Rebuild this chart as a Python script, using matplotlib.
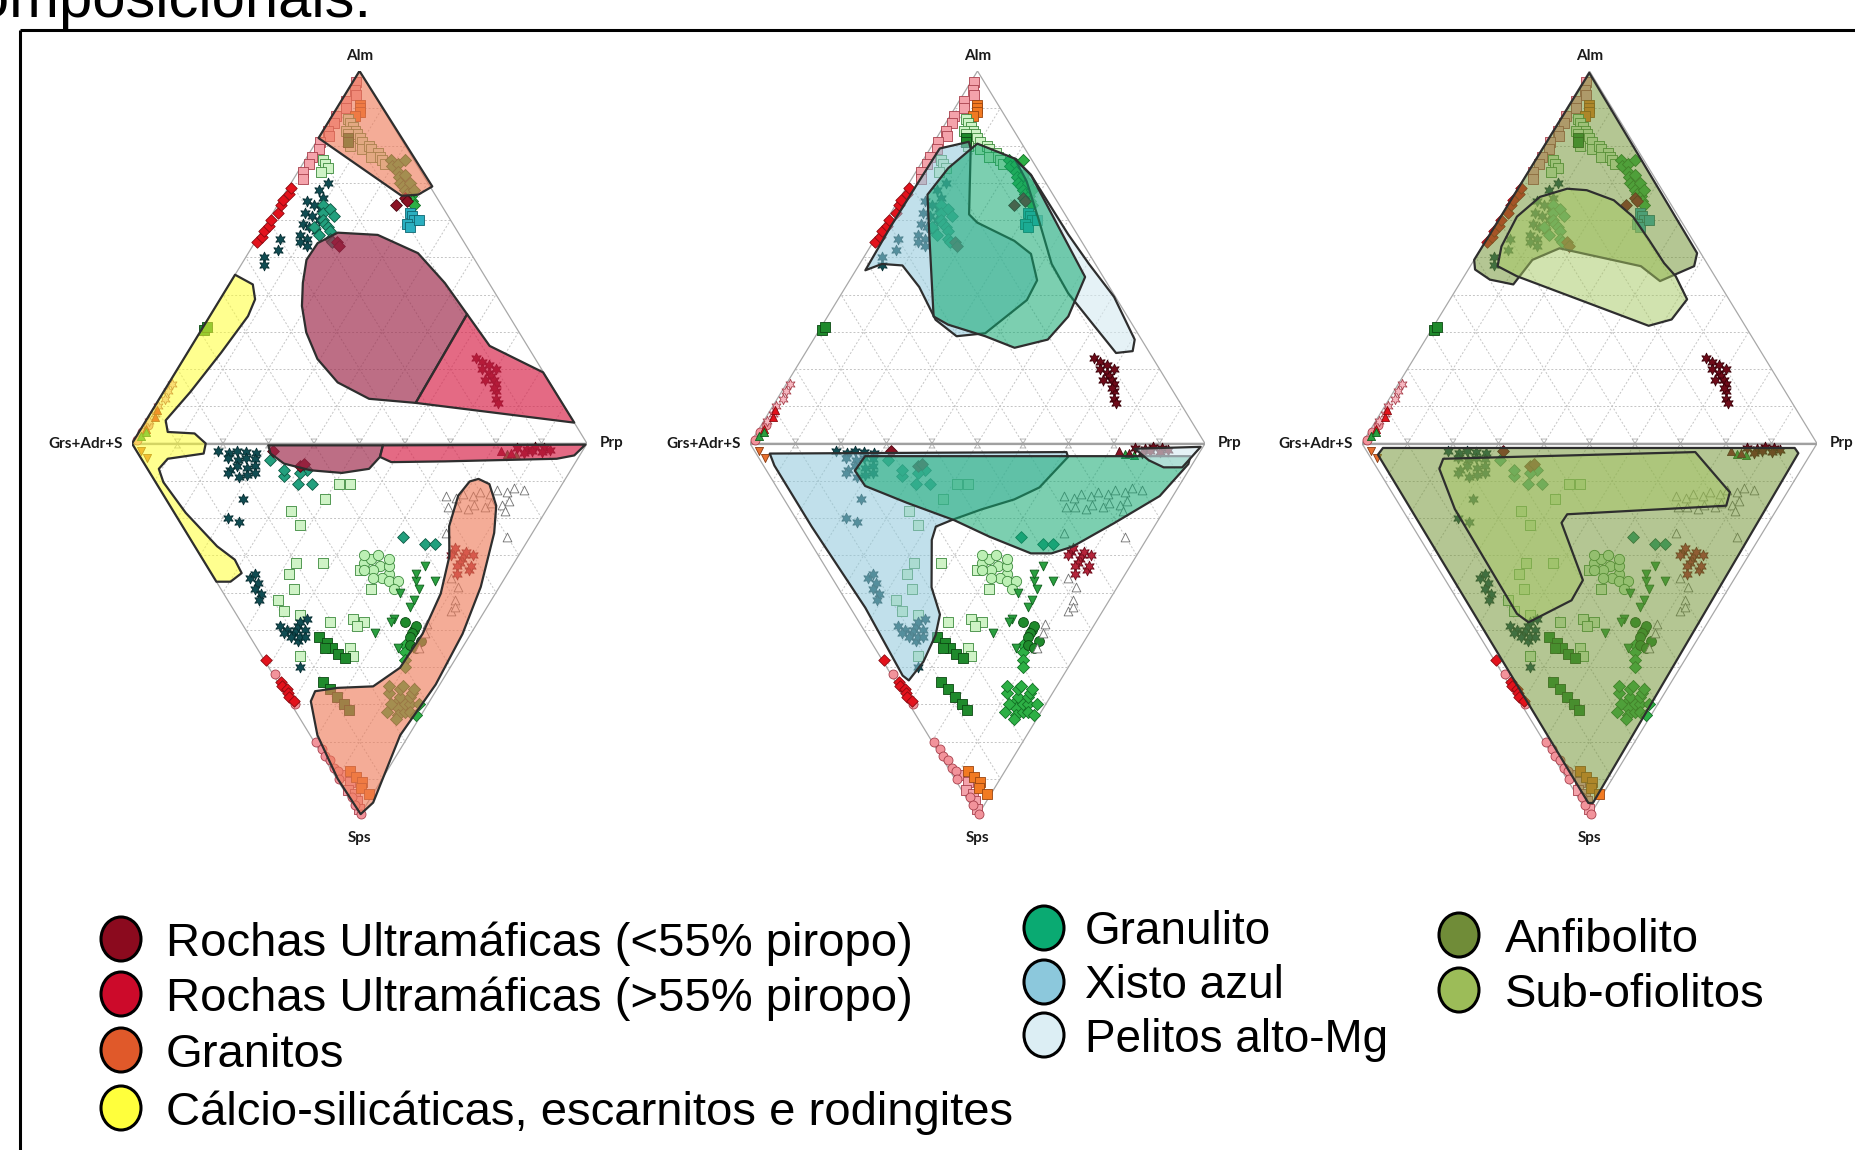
import numpy as np
import matplotlib.pyplot as plt
from matplotlib.patches import Polygon, Ellipse
from matplotlib.colors import to_rgba

W, H = 1856, 1150

# ---------------------------------------------------------------------------
# Discrimination fields (mol %).
# Upper triangle vertices are (Prp, Alm); lower triangle vertices are (Prp, Sps).
# Grs+Adr+S is the remainder in both halves.
# ---------------------------------------------------------------------------
granito_up = [(0, 100), (31.5, 69), (29.5, 66.8), (26, 66.5), (0, 82)]
granito_low = [(71.4, 9.5), (73.1, 10.9), (71.7, 16.7), (67.6, 24.0), (57.4, 38.5),
               (47.1, 51.1), (34.4, 64.7), (19.8, 78.3), (4.8, 96.4), (0.5, 99.5),
               (0.2, 90.0), (1.6, 78.3), (4.7, 69.2), (7.0, 66.5), (12.4, 65.6),
               (20.4, 65.2), (28.8, 60.2), (38.3, 51.1), (47.7, 40.3), (54.6, 30.3),
               (58.6, 22.2), (64.7, 14.0), (69.1, 10.2)]
ultra_lt55_up = [(16.9, 56.6), (13.9, 53.8), (13.7, 49.3), (16.0, 43.1), (18.9, 36.9),
                 (23.4, 29.8), (29.4, 22.7), (37.0, 16.4), (46.1, 12.0), (56.9, 10.9),
                 (56.3, 34.7), (47.2, 43.1), (37.3, 51.1), (26.0, 56.0)]
ultra_gt55_up = [(56.3, 34.7), (65.5, 26.2), (80.8, 19.1), (94.4, 5.6), (56.9, 10.9)]
ultra_lt55_low = [(29.7, 0.5), (29.1, 2.7), (30.7, 5.4), (35.7, 7.2), (42.2, 7.9),
                  (48.7, 6.8), (52.7, 3.6), (54.9, 0.5)]
ultra_gt55_low = [(54.9, 0.5), (99.5, 0.3), (95.6, 3.2), (91.3, 4.1), (66.4, 4.8),
                  (54.5, 5.0), (52.7, 3.6)]
calcsil_up = [(0, 45.3), (5.2, 42.7), (7.7, 38.7), (8.4, 34.2), (7.4, 24.4), (5.9, 13.8),
              (4.3, 6.2), (6.3, 3.1), (12.4, 2.7), (16.2, 0)]
calcsil_low = [(14.4, 2.7), (5.8, 4.1), (2.5, 6.8), (1.7, 10.4), (2.5, 18.6), (4.9, 27.6),
               (7.0, 31.2), (6.7, 34.8), (3.1, 37.1), (0, 37.1), (0, 0)]

xisto_up = [(7.6, 81.0), (2.1, 79.2), (1.9, 68.6), (1.8, 58.0), (2.1, 46.5), (4.9, 48.2),
            (9.6, 47.8), (16.2, 42.0), (24.2, 33.2), (31.0, 28.8), (36.9, 29.6),
            (41.6, 38.5), (41.2, 43.8), (36.3, 50.9), (30.9, 54.4), (20.3, 59.3),
            (17.4, 61.5), (8.9, 79.2)]
granulito_up = [(9.7, 80.5), (19.9, 76.5), (25.7, 72.1), (51.3, 44.7), (52.9, 34.1),
                (51.5, 27.9), (45.3, 25.7), (37.3, 28.8), (27.6, 31.9), (23.3, 34.1),
                (11.3, 56.2), (5.6, 66.8), (6.6, 73.9)]
pelito_up = [(19.9, 76.5), (25.7, 72.1), (41.8, 56.2), (50.4, 48.2), (60.3, 39.4),
             (70.6, 27.9), (71.7, 24.8), (68.3, 24.3), (59.5, 31.9), (49.8, 40.3),
             (42.2, 48.2), (33.7, 59.7), (25.6, 70.4)]
xisto_low = [(3.0, 2.7), (68.4, 2.3), (68.1, 3.6), (57.7, 11.8), (50.6, 15.0), (42.0, 17.7),
             (34.2, 20.5), (29.7, 22.3), (27.0, 25.9), (20.6, 38.6), (18.8, 45.9),
             (15.1, 51.4), (8.8, 58.6), (3.1, 63.6), (2.4, 62.3), (3.3, 44.1),
             (2.4, 22.3), (2.4, 5.9)]
granulito_low = [(23.6, 3.4), (95.1, 3.4), (93.6, 5.5), (83.0, 14.1), (69.3, 21.4),
                 (57.0, 27.7), (51.5, 29.5), (47.0, 29.5), (40.1, 25.0), (34.6, 20.6),
                 (26.5, 15.9), (19.6, 11.4), (19.4, 7.3)]
pelito_low = [(83.8, 1.4), (98.6, 0.9), (94.9, 3.9), (91.8, 6.4), (87.7, 6.4),
              (85.4, 4.5), (84.4, 2.5)]

anfibolito_up = [(0.2, 99.5), (48.1, 51.1), (49.2, 47.6), (43.7, 43.6), (37.5, 47.6),
                 (17.2, 52.4), (12.8, 49.3), (11.9, 42.7), (6.1, 44.0), (1.5, 46.7),
                 (0, 49.3)]
subofio_up = [(6.0, 66.2), (10.9, 68.4), (15.4, 68.0), (22.7, 65.3), (29.1, 60.9),
              (35.7, 54.7), (42.2, 48.4), (46.5, 44.9), (52.1, 38.7), (51.4, 33.3),
              (47.2, 31.6), (11.6, 44.9), (6.0, 47.6), (4.2, 52.9), (3.6, 60.9)]
anfibolito_low = [(4.0, 1.2), (94.5, 1.2), (94.6, 2.6), (2.5, 96.5), (1.5, 96.5), (2.0, 3.0)]
subofio_low = [(15.8, 4.1), (72.1, 2.3), (74.3, 13.1), (71.7, 16.7), (35.6, 19.0),
               (33.2, 21.3), (30.2, 36.7), (25.0, 42.1), (12.6, 48.0), (11.2, 45.7),
               (11.6, 17.6), (13.6, 6.8)]

# ---------------------------------------------------------------------------
# Garnet analyses (mol %), identical on the three diagrams
# ---------------------------------------------------------------------------
pink_sq_up = [(0.8, 97), (1.5, 95), (2.5, 93.5), (1, 92), (2, 90), (0.8, 88), (1.5, 86),
              (1, 84), (2, 82.5), (0.8, 81), (1.5, 79), (1, 77), (1.5, 75), (1, 73), (2, 71)]
pink_sq_low = [(1.5, 89), (2.5, 91), (1, 93), (2, 94), (1.5, 96), (0.8, 98)]
pink_o_up = [(0.5, 1), (0.8, 3), (1, 5)]
pink_o_low = [(0.5, 62), (0.8, 70), (0.5, 80), (0.8, 82), (0.5, 84), (1, 85), (0.8, 87),
              (1.2, 88), (0.5, 90), (0.8, 95), (0.5, 97), (0.5, 99.5)]
pink_star_up = [(0.8, 6), (1, 8), (0.8, 10), (1.2, 12), (1, 14), (0.8, 16)]
red_d_up = [(0.5, 54), (0.8, 55.5), (0.5, 57), (0.8, 58.5), (0.5, 60), (1, 62), (0.8, 64),
            (0.5, 65.5), (1, 67), (0.8, 68.5)]
red_d_low = [(0.5, 58), (0.8, 64), (0.5, 65), (1, 66), (0.8, 67), (0.5, 68), (1, 69)]
red_tri_up = [(1, 4), (1.5, 7), (1, 9)]
orange_sq_up = [(4.5, 91), (5, 90), (5.5, 89), (5, 88)]
orange_sq_low = [(4, 88), (4.5, 89.5), (5, 91), (4, 92.5), (5, 94)]
orange_v_low = [(1, 2), (1.2, 4)]
ltgreen_sq_up = [(4, 87), (5, 86), (6, 85), (7, 84), (5, 84), (8, 83), (6, 83), (9, 82),
                 (7, 81), (10, 81), (8, 80), (11, 79), (4, 76), (5, 75), (6, 74), (5, 73),
                 (12, 80), (13, 79), (15, 78), (14, 77), (16, 77), (17, 76), (18, 75)]
ltgreen_sq_low = [(40, 11), (42.5, 11), (35, 15), (26, 18), (26, 22), (20, 32), (26, 32),
                  (33, 34), (17, 35), (16, 39), (11, 42), (11, 45), (19.5, 48), (25, 47),
                  (27, 48), (20.5, 55), (20, 57), (8.5, 57), (33, 39), (25, 49), (14, 46)]
ltgreen_o_low = [(35, 32), (37, 31), (38, 33), (36, 34), (39, 35), (40, 33), (37, 36),
                 (35, 36), (38, 37), (41, 31), (39, 30), (36, 30), (34, 34), (40, 37), (38, 39)]
teal_star_up = [(8, 70), (7, 68), (9, 66), (6, 65), (8, 64), (10, 63), (7, 62), (9, 61),
                (11, 60), (8, 59), (10, 58), (12, 57), (9, 56), (11, 55), (10, 54), (12, 53),
                (5, 55), (6, 52), (4, 50), (5, 48)]
teal_star_low = [(18, 2), (20, 2.5), (22, 2), (24, 2.2), (26, 2.5), (19, 4), (21, 4.5),
                 (23, 4), (25, 4.2), (20, 6), (22, 6.5), (18, 7), (24, 6), (17, 8), (21, 8.5),
                 (19, 9), (23, 8), (17, 15), (11, 20), (13, 21),
                 (8, 36), (9, 37.5), (7.5, 39), (8, 40.5), (7, 42), (9.5, 35),
                 (8, 49), (9, 50), (10, 51), (11, 50), (12, 49), (9, 52), (10, 53), (11, 52),
                 (13, 50), (12, 52), (8, 51), (13, 48), (7, 60), (15, 47)]
teal_d_up = [(10, 64), (11, 62), (12, 60), (13, 59), (14, 58), (15, 57), (16, 55), (17, 54),
             (13, 56), (11, 58), (12, 63), (14, 61)]
teal_d_low = [(28, 4.5), (29, 8.6), (31, 11), (30, 7), (35, 7), (34, 11), (33, 8),
              (47, 25), (51, 27), (53, 27)]
green_d_up = [(19, 76), (20, 74.5), (21, 75), (22, 73), (23, 71.5), (24, 70), (25, 69),
              (26, 68), (27, 67), (28, 66.5), (29, 65), (30, 64), (24, 72), (26, 70),
              (22, 76), (28, 68)]
green_d_low = [(24, 69), (25, 68), (23, 71), (26, 66), (22, 73), (24, 72), (27, 65), (21, 74),
               (25, 70), (23, 67), (26, 70), (27, 68), (28, 67), (22, 70), (25, 72), (29, 66),
               (24, 65), (20, 72), (28, 70), (26, 73), (33, 54), (32, 56), (31, 58), (30, 60)]
dkgreen_sq_up = [(0.5, 30.5), (0.8, 31.2), (6.5, 82), (7, 81)]
dkgreen_sq_low = [(15, 52), (16, 53.5), (16.5, 55), (17, 56.5), (18, 57.5), (15, 55),
                  (10, 64), (10.5, 66), (11, 68), (11.5, 70), (12, 71.5)]
dkgreen_o_low = [(36, 48), (37, 50), (38, 49), (36, 51), (35, 52), (37, 53), (34, 54), (35, 55)]
green_v_low = [(48, 33), (44, 37), (48, 37), (43.5, 39), (39, 40), (39, 44), (34, 47),
               (28, 51), (31, 55), (33, 48), (45, 35), (41, 42)]
green_tri_up = [(1, 2), (1.5, 3)]
green_tri_low = [(81, 2.8), (83, 3)]
open_tri_low = [(62, 14), (64, 14.5), (66, 13.5), (68, 14), (70, 13), (72, 13.5), (74, 12.5),
                (76, 13), (78, 12), (80, 12.5), (63, 17), (65, 17.5), (67, 16.5), (69, 17),
                (71, 16), (73, 16.5), (75, 15.5), (61, 17), (73, 18), (70, 25), (57, 24),
                (52.5, 38.5), (50, 42), (47.5, 45), (40.6, 48.4), (39, 51), (35.5, 55),
                (52, 36), (49, 44)]
cyan_sq_up = [(30, 62), (31, 61), (32, 60), (31, 59), (32, 58), (33, 60)]
maroon_d_up = [(18, 54), (19, 53), (27, 66), (28, 65), (26, 64)]
maroon_d_low = [(30, 2), (34, 6), (35, 5.5)]
maroon_star_up = [(64, 23), (66, 22), (67, 20), (68, 21), (69, 19), (70, 18), (71, 17),
                  (72, 16), (70, 20), (73, 14), (74, 12), (75, 11), (72, 15), (69, 17)]
maroon_star_low = [(84, 1.2), (86, 1.5), (88, 1), (90, 1.3), (87, 2), (89, 2.2), (91, 1.8),
                   (85, 2.5)]
maroon_tri_low = [(80, 2), (82, 2.5)]
red_star_low = [(57, 31), (56, 32), (58, 30), (55, 33), (57, 34), (59, 29), (54, 35),
                (56, 29), (58, 33), (55, 30), (57, 28), (60, 30)]

# Legend
legend_col1 = ["Rochas Ultramáficas (<55% piropo)", "Rochas Ultramáficas (>55% piropo)",
               "Granitos", "Cálcio-silicáticas, escarnitos e rodingites"]
legend_col1_colors = ["#8B0A1E", "#CC0A2A", "#E0592A", "#FFFF3C"]
legend_col2 = ["Granulito", "Xisto azul", "Pelitos alto-Mg"]
legend_col2_colors = ["#0AAA72", "#8CC8DC", "#DCEEF4"]
legend_col3 = ["Anfibolito", "Sub-ofiolitos"]
legend_col3_colors = ["#708C38", "#9CBC58"]

STAR = (6, 1, 0)
point_styles = [
    (pink_sq_up, pink_sq_low, "s", "#F4A3AB", "#A8404C", 42),
    (pink_o_up, pink_o_low, "o", "#F2939B", "#A8404C", 42),
    (pink_star_up, [], STAR, "#F6B7C0", "#A8404C", 55),
    (red_d_up, red_d_low, "D", "#E3121C", "#8A0A10", 34),
    (red_tri_up, [], "^", "#E3121C", "#8A0A10", 34),
    (orange_sq_up, orange_sq_low, "s", "#F27A22", "#9A4510", 42),
    ([], orange_v_low, "v", "#E8702E", "#8A3A10", 34),
    (ltgreen_sq_up, ltgreen_sq_low, "s", "#CFF3C6", "#3C8A3C", 46),
    ([], ltgreen_o_low, "o", "#BDF0B5", "#3C8A3C", 55),
    (teal_star_up, teal_star_low, STAR, "#0F4C52", "#062C30", 60),
    (teal_d_up, teal_d_low, "D", "#23A07E", "#0E5A44", 36),
    (green_d_up, green_d_low, "D", "#2DB045", "#127024", 38),
    (dkgreen_sq_up, dkgreen_sq_low, "s", "#1F8A2C", "#0B4812", 42),
    ([], dkgreen_o_low, "o", "#1F8A2C", "#0B4812", 50),
    ([], green_v_low, "v", "#2AA040", "#0F5E1C", 40),
    (green_tri_up, green_tri_low, "^", "#2AA040", "#0F5E1C", 34),
    ([], open_tri_low, "^", "white", "#6E6E6E", 40),
    (cyan_sq_up, [], "s", "#2AAFC0", "#0F6670", 42),
    (maroon_d_up, maroon_d_low, "D", "#8A1224", "#4A0610", 36),
    (maroon_star_up, maroon_star_low, STAR, "#6E0A18", "#3A0008", 60),
    ([], red_star_low, STAR, "#B5243A", "#6A0A18", 60),
    ([], maroon_tri_low, "^", "#8A1224", "#4A0610", 34),
]


def to_xy(pts, lower=False):
    if len(pts) == 0:
        return np.empty(0), np.empty(0)
    a = np.asarray(pts, dtype=float) / 100.0
    x = a[:, 0] + a[:, 1] / 2
    y = -a[:, 1] if lower else a[:, 1]
    return x, y


def field(up=(), low=()):
    xu, yu = to_xy(up)
    xl, yl = to_xy(low, lower=True)
    return np.column_stack([np.r_[xu, xl], np.r_[yu, yl]])


panels = [
    (132, [
        (field(up=calcsil_up, low=calcsil_low), "#FFFF33", 0.55),
        (field(up=granito_up), "#EE7A58", 0.62),
        (field(low=granito_low), "#EE7A58", 0.62),
        (field(up=ultra_lt55_up), "#9E2A4C", 0.68),
        (field(up=ultra_gt55_up), "#D8234A", 0.68),
        (field(low=ultra_lt55_low), "#9E2A4C", 0.68),
        (field(low=ultra_gt55_low), "#D8234A", 0.68),
    ]),
    (750, [
        (field(up=pelito_up), "#D5EAF1", 0.6),
        (field(up=xisto_up), "#8EC8DB", 0.55),
        (field(up=granulito_up), "#10A870", 0.55),
        (field(low=xisto_low), "#8EC8DB", 0.55),
        (field(low=granulito_low), "#10A870", 0.55),
        (field(low=pelito_low), "#D5EAF1", 0.6),
    ]),
    (1362, [
        (field(up=anfibolito_up), "#6F9230", 0.52),
        (field(up=subofio_up), "#A5C860", 0.5),
        (field(low=anfibolito_low), "#6F9230", 0.52),
        (field(low=subofio_low), "#A5C860", 0.45),
    ]),
]

PANEL_W, PANEL_TOP, PANEL_BOT = 455, 71, 816

fig = plt.figure(figsize=(W / 100, H / 100), dpi=100)
fig.patch.set_facecolor("white")

# page layer: frame, caption fragment and legend, in pixel units
bg = fig.add_axes([0, 0, 1, 1], zorder=0)
bg.set_xlim(0, W)
bg.set_ylim(H, 0)
bg.axis("off")
bg.plot([20, 20], [30, H + 20], color="black", lw=2.2, solid_capstyle="butt")
bg.plot([20, W + 20], [30, 30], color="black", lw=2.2, solid_capstyle="butt")
bg.text(372, 17, "composicionais.", fontsize=43, family="Liberation Sans",
        va="baseline", ha="right")


def legend_column(labels, colors, mx, tx, ys, size):
    for lab, col, y in zip(labels, colors, ys):
        bg.add_patch(Ellipse((mx, y), 40, 44, facecolor=col, edgecolor="black", lw=2.2))
        bg.text(tx, y + size * 0.5, lab, fontsize=size, family="Liberation Sans",
                va="baseline", ha="left")


legend_column(legend_col1, legend_col1_colors, 121, 166, [939, 994, 1050, 1108], 34)
legend_column(legend_col2, legend_col2_colors, 1044, 1085, [928, 982, 1035], 33)
legend_column(legend_col3, legend_col3_colors, 1459, 1505, [935, 990], 34)

grid_kw = dict(color="#C4C4C4", lw=0.7, ls=(0, (2, 2)), zorder=1)
label_kw = dict(textcoords="offset points", fontsize=11, fontweight="bold",
                family="Lato", color="#1A1A1A", annotation_clip=False)

for x0, fields in panels:
    ax = fig.add_axes([x0 / W, 1 - PANEL_BOT / H, PANEL_W / W, (PANEL_BOT - PANEL_TOP) / H],
                      zorder=2)
    ax.set_xlim(0, 1)
    ax.set_ylim(-1, 1)
    ax.axis("off")

    for sgn in (1, -1):
        for k in range(1, 10):
            f = k / 10
            ax.plot([f / 2, 1 - f / 2], [sgn * f, sgn * f], **grid_kw)
            ax.plot([f, f + (1 - f) / 2], [0, sgn * (1 - f)], **grid_kw)
            ax.plot([f, f / 2], [0, sgn * f], **grid_kw)
            # small tick marks along the base
            ax.plot([f, f - 0.006, f + 0.006, f], [0, sgn * 0.012, sgn * 0.012, 0],
                    color="#B0B0B0", lw=0.6, zorder=1)
        ax.plot([0, 1, 0.5, 0], [0, 0, sgn, 0], color="#A8A8A8", lw=0.9, zorder=1)
    ax.plot([0, 1.01], [0, 0], color="#A0A0A0", lw=1.6, zorder=1)

    for up, low, mk, fc, ec, s in point_styles:
        for pts, lower in ((up, False), (low, True)):
            x, y = to_xy(pts, lower)
            if len(x):
                ax.scatter(x, y, marker=mk, s=s, c=fc, edgecolors=ec, linewidths=0.6,
                           zorder=2, clip_on=False)

    for xy, col, alpha in fields:
        ax.add_patch(Polygon(xy, closed=True, facecolor=to_rgba(col, alpha),
                             edgecolor="#2E2E2E", lw=1.6, joinstyle="round", zorder=3))

    ax.annotate("Alm", xy=(0.5, 1), xytext=(0, 6), ha="center", va="bottom", **label_kw)
    ax.annotate("Sps", xy=(0.5, -1), xytext=(0, -11), ha="center", va="top", **label_kw)
    ax.annotate("Grs+Adr+S", xy=(0, 0), xytext=(-7, 0), ha="right", va="center", **label_kw)
    ax.annotate("Prp", xy=(1, 0), xytext=(9, 0), ha="left", va="center", **label_kw)

fig.savefig("out.png", dpi=100, facecolor="white")
